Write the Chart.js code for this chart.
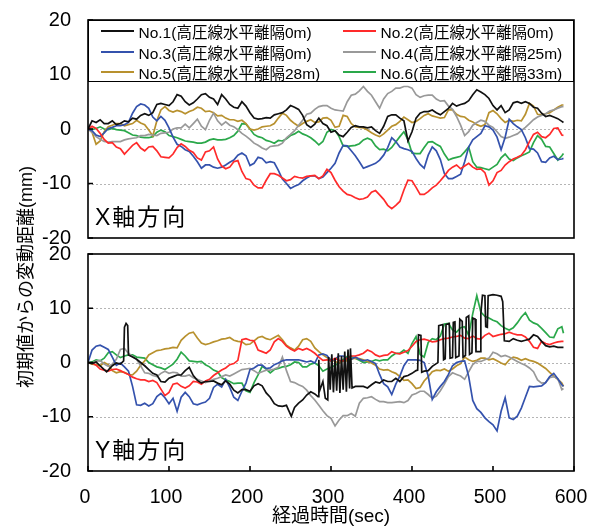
<!DOCTYPE html>
<html><head><meta charset="utf-8">
<script src="https://cdn.jsdelivr.net/npm/chart.js@4/dist/chart.umd.min.js"></script>
<style>
html,body{margin:0;padding:0;background:#fff;}
#wrap{position:relative;width:589px;height:526px;overflow:hidden;font-family:'Liberation Sans','Noto Sans CJK JP',Arial,sans-serif;color:#000;}
canvas{position:absolute;left:0;top:0;}
#legend{position:absolute;left:88px;top:20px;width:486px;height:62px;box-sizing:border-box;border:1.5px solid #000;background:#fff;}
.item{position:absolute;height:20px;display:flex;align-items:center;font-size:15.5px;white-space:nowrap;}
.sw{display:block;width:33px;height:2px;margin-right:5px;}
.plabel{position:absolute;left:95px;font-size:23px;line-height:1;letter-spacing:2px;white-space:nowrap;}
#ytitle{position:absolute;left:24px;top:277px;font-size:18px;white-space:nowrap;transform:translate(-50%,-50%) rotate(-90deg);}
</style></head>
<body>
<div id="wrap">
<canvas id="cTop" width="589" height="526"></canvas>
<canvas id="cBot" width="589" height="526"></canvas>
<div id="legend"></div>
<div class="plabel" style="top:206px">X軸方向</div>
<div class="plabel" style="top:439px">Y軸方向</div>
<div id="ytitle">初期値からの変動距離(mm)</div>
</div>
<script>
// ---- data ----
const seriesNames = ['No.1(高圧線水平離隔0m)','No.2(高圧線水平離隔0m)','No.3(高圧線水平離隔0m)','No.4(高圧線水平離隔25m)','No.5(高圧線水平離隔28m)','No.6(高圧線水平離隔33m)'];
const seriesColors = ['#111111','#ff2a2a','#3452ad','#999999','#b8912e','#2aa84a'];
const xTicks = [0,100,200,300,400,500,600];
const yTicks = [-20,-10,0,10,20];

const timeSec = [0,5,10,15,20,25,30,35,40,45,50,55,60,65,70,75,80,85,90,95,
100,105,110,115,120,125,130,135,140,145,150,155,160,165,170,175,180,185,190,195,
200,205,210,215,220,225,230,235,240,245,250,255,260,265,270,275,280,285,290,295,
300,305,310,315,320,325,330,335,340,345,350,355,360,365,370,375,380,385,390,395,
400,405,410,415,420,425,430,435,440,445,450,455,460,465,470,475,480,485,490,495,
500,505,510,515,520,525,530,535,540,545,550,555,560,565,570,575,580,585,587];

// X direction
const no1X = [0,1.5,1.2,1.7,1.0,1.0,1.5,0.8,1.0,1.5, 1.3,2.0,1.8,2.5,2.8,2.5,3.0,4.5,4.7,4.5,
4.3,5.0,6.3,6.0,5.0,4.4,4.8,5.5,6.3,6.5, 5.8,5.5,4.5,6.3,5.5,4.5,4.0,3.8,5.0,4.2,
3.0,2.0,1.8,1.9,2.1,2.0,2.6,2.8,3.0,3.5, 4.3,4.0,3.6,2.5,0.8,0.3,0.9,2.0,1.0,0.6,
-0.6,-0.3,-1.1,-1.4,-0.6,0.3,0.6,0.4,0.4,0.2, 0.4,-0.3,-0.8,0.5,2.3,2.6,2.6,2.0,1.5,-2.2,
-0.5,2.0,2.9,3.2,3.2,3.5,3.0,2.6,3.2,3.8, 4.7,4.2,4.5,4.7,5.2,6.3,7.2,6.8,6.3,5.6,
4.3,3.5,4.3,3.0,3.5,4.8,5.0,4.7,5.0,4.7, 4.0,3.8,2.9,2.3,2.5,2.2,1.9,1.4,1.2];
const no2X = [0,0.5,0.1,-0.8,-1.9,-2.6,-2.5,-3.3,-3.6,-4.6, -3.8,-3.0,-2.5,-3.5,-4.0,-3.3,-3.2,-4.0,-5.1,-5.2,
-5.3,-4.6,-3.4,-2.7,-3.2,-3.9,-4.3,-5.3,-5.7,-4.2, -4.0,-3.3,-5.5,-6.8,-7.3,-7.0,-6.0,-5.8,-7.8,-9.1,
-9.3,-10.3,-10.8,-10.8,-9.4,-8.2,-8.2,-8.5,-9.0,-9.5, -9.3,-8.7,-8.9,-9.0,-8.7,-8.6,-8.5,-9.1,-8.6,-7.4,
-8.0,-9.4,-10.6,-11.4,-12.0,-12.2,-12.6,-12.9,-12.8,-12.5, -11.6,-11.3,-12.1,-12.9,-14.0,-14.6,-14.0,-13.3,-11.2,-9.4,
-9.5,-10.7,-12.0,-12.0,-11.5,-10.8,-10.3,-9.5,-8.6,-7.6, -7.0,-6.6,-7.3,-6.8,-6.3,-7.0,-7.4,-7.3,-8.0,-10.3,
-9.5,-8.0,-7.6,-6.6,-6.0,-5.5,-5.2,-4.8,-3.8,-2.3, -1.0,-0.6,-1.4,-1.6,-1.0,0.1,0.2,-1.1,-1.2];
const no3X = [0,-0.3,-1.1,-1.4,-0.7,0.1,0.3,0.6,0.6,0.8, 1.2,2.9,4.1,4.6,4.4,3.8,2.2,1.5,2.3,1.6,
0.2,-1.5,-2.8,-3.2,-3.8,-4.1,-5.0,-6.0,-7.2,-6.6, -6.6,-7.0,-7.2,-7.0,-6.6,-6.1,-5.7,-4.8,-4.4,-4.9,
-6.7,-6.3,-5.2,-5.4,-6.2,-6.0,-6.2,-7.6,-9.2,-10.0, -10.9,-10.5,-10.2,-9.5,-9.0,-8.6,-8.6,-9.1,-8.8,-8.0,
-7.2,-6.3,-4.4,-3.0,-3.1,-4.0,-4.9,-6.0,-7.2,-6.9, -6.6,-6.3,-5.7,-4.8,-3.4,-1.6,-2.3,-3.3,-3.6,-3.8,
-4.1,-5.4,-6.5,-7.2,-4.8,-3.3,-4.0,-5.6,-8.2,-9.1, -9.1,-8.7,-8.3,-6.0,-3.3,-2.0,-1.4,-0.8,0.6,0.4,
-0.2,-1.5,-3.8,-1.5,1.8,1.0,0.4,-0.1,-1.6,-3.6, -3.7,-4.4,-6.0,-6.1,-5.3,-5.0,-5.6,-5.5,-5.4];
const no4X = [0,-0.6,-1.4,-1.9,-2.3,-2.4,-2.3,-2.3,-2.3,-2.0, -1.8,-1.7,-1.6,-1.2,-1.2,-1.0,-1.1,-1.2,-0.8,-0.7,
-0.6,0.0,0.2,0.2,0.9,0.2,1.0,1.8,0.5,-0.1, 1.6,2.9,1.5,0.7,1.3,0.7,0.4,-0.1,-0.8,-1.3,
-1.9,-2.6,-3.0,-3.5,-3.8,-3.2,-3.1,-3.0,-2.6,-1.6, -1.0,-0.3,0.7,1.6,2.7,2.9,3.6,4.1,4.3,4.3,
3.8,3.5,3.4,3.3,5.0,6.2,6.4,7.0,7.8,6.9, 6.2,5.0,3.8,5.5,6.5,6.9,7.5,7.5,7.8,7.8,
7.5,6.3,5.8,6.1,6.2,6.2,5.5,5.1,5.2,4.2, 3.6,2.3,0.7,-1.2,-0.5,0.7,1.2,1.6,1.4,0.7,
0.3,-0.5,-1.4,-1.7,-1.5,-1.2,-0.9,-0.3,0.3,1.0, 1.7,2.2,2.5,2.8,3.3,3.5,3.8,4.1,4.1];
const no5X = [0,-0.6,-2.8,-2.2,-0.5,0.4,0.7,1.0,1.0,0.6, 0.8,1.0,1.6,1.1,0.8,-0.2,-1.3,1.5,3.5,4.1,
3.4,3.1,3.4,3.2,2.8,3.2,3.5,4.0,3.8,3.2, 3.3,3.0,2.4,2.5,2.0,1.7,1.7,1.4,1.6,1.0,
0.0,-0.2,0.0,0.4,0.5,0.6,1.0,2.0,2.9,2.5, 1.6,1.0,0.5,1.0,1.4,1.7,1.2,1.3,2.0,2.1,
1.6,0.3,0.5,2.5,2.3,1.0,0.4,0.3,0.2,-0.2, -0.7,-1.1,-1.4,-0.9,-0.2,0.5,0.8,1.4,2.2,1.7,
1.2,1.4,1.9,2.5,2.8,2.4,2.2,2.0,2.1,3.5, 3.5,2.7,2.3,2.2,1.6,1.3,0.8,0.5,0.8,3.0,
3.4,2.8,1.9,1.2,1.6,1.4,1.6,1.5,2.7,4.7, 4.2,2.7,2.6,2.8,3.0,3.5,4.0,4.4,4.4];
const no6X = [0,-0.1,0.1,0.4,0.0,-0.1,0.1,-0.1,-0.2,-0.3, -0.7,-1.1,-1.2,-1.5,-1.6,-1.6,-1.4,-0.6,-0.2,-0.5,
-1.2,-1.4,-1.6,-1.9,-2.2,-2.3,-2.4,-2.6,-2.6,-2.4, -2.0,-1.8,-2.0,-2.0,-1.9,-1.6,-1.2,-0.4,1.0,0.9,
0.0,-1.0,-1.4,-1.6,-2.1,-2.3,-2.6,-2.1,-2.2,-1.8, -1.2,-0.9,-0.4,-0.9,-1.2,-1.6,-2.2,-2.9,-2.3,-0.6,
-0.1,-0.3,-1.4,-3.1,-3.2,-3.1,-3.0,-2.7,-2.0,-1.7, -2.0,-3.1,-3.8,-3.7,-4.0,-3.4,-2.4,-1.4,-0.5,-2.0,
-4.4,-4.5,-4.5,-3.4,-2.4,-2.3,-2.8,-3.2,-4.6,-5.7, -5.4,-5.2,-5.0,-4.2,-3.3,-6.0,-7.0,-7.1,-7.3,-7.5,
-7.0,-6.5,-5.3,-4.6,-5.5,-5.8,-5.3,-4.9,-4.6,-4.2, -2.5,-1.2,-1.9,-3.2,-3.3,-4.5,-5.7,-4.9,-4.5];

// Y direction
const timeNo1Y = [0,5,10,15,20,23,25,30,35,40,44,45,47,49,50,55,60,65,70,75,80,85,90,95,
100,105,110,115,120,125,130,135,140,145,150,155,160,165,170,175,180,185,190,195,
200,205,210,215,220,225,230,235,240,245,248,251,255,260,265,270,275,280,284,285,286,290,293,296,
297,299,301,303,305,307,309,311,313,315,317,319,321,323,324,326,
330,335,340,345,350,355,360,365,370,375,380,385,390,395,
400,405,407,408,411,412,415,420,425,430,432,433,438,439,441,442,446,447,450,451,453,454,458,459,462,463,466,467,470,471,474,475,478,479,484,485,487,490,491,493,494,
500,505,510,512,514,520,525,530,535,540,545,550,555,560,565,570,575,580,585,587];
const no1Y = [0,-0.2,0.1,-0.6,-1.3,-1.7,-1.4,-0.6,-0.1,-0.3,0.3,6.5,7.2,6.8,1.4,1.0,0.6,0.0,-0.6,-1.3,-2.0,-2.3,-3.5,-3.6,
-2.9,-2.6,-2.3,-2.3,-1.5,-0.9,-2.4,-3.3,-3.8,-3.5,-3.5,-3.4,-3.8,-4.1,-3.4,-4.0,-5.1,-5.6,-5.0,-5.0,
-5.3,-4.3,-3.9,-4.3,-5.6,-6.4,-7.6,-8.0,-8.1,-7.9,-8.9,-9.9,-8.3,-7.5,-6.9,-6.0,-5.4,-5.8,-6.3,0.5,-5.2,-3.5,-6.6,-6.9,
1.0,-5.0,1.5,-5.5,0.8,-5.2,1.7,-5.6,1.2,-5.0,2.0,-5.4,2.4,-4.8,2.6,-4.7,
-4.4,-4.4,-4.4,-4.7,-4.1,-3.6,-3.8,-3.2,-3.5,-3.5,-2.9,-3.5,-2.6,-2.4,
-2.0,-1.5,-1.4,5.1,5.0,-1.8,-1.6,-1.5,-0.7,-0.2,0.0,6.8,7.0,0.5,0.7,7.0,7.2,0.8,0.9,7.4,7.5,0.9,1.2,8.0,7.6,1.0,1.3,8.3,8.6,1.5,1.8,8.2,8.0,2.0,2.0,9.0,12.4,12.3,6.6,6.5,12.3,
12.5,12.4,12.2,11.2,4.0,3.9,4.4,4.1,3.9,4.1,4.3,5.1,4.8,3.9,3.1,2.9,3.0,2.8,2.8,2.8];
const no2Y = [0,-0.1,-0.5,-1.2,-1.4,-1.6,-1.3,-1.2,-1.5,-1.9, -2.2,-2.7,-3.0,-3.2,-3.2,-3.5,-3.3,-3.7,-4.9,-6.1,
-5.5,-4.0,-3.8,-4.4,-4.7,-4.3,-3.5,-3.6,-4.0,-3.4, -3.1,-2.4,-1.9,-1.4,-1.0,-0.4,-0.2,0.4,4.2,4.4,
4.1,4.0,2.3,2.0,1.7,2.3,3.8,4.4,3.9,3.0, 2.5,2.1,2.6,2.3,2.6,2.2,1.7,1.0,0.4,0.5,
0.3,0.8,0.4,0.3,0.8,1.2,1.2,1.4,1.7,2.3, 2.0,1.4,1.1,1.3,1.4,2.0,1.7,1.6,1.9,2.2,
3.0,3.9,4.2,4.3,4.1,3.8,3.9,4.2,4.4,4.5, 4.7,4.8,5.0,4.5,4.4,4.9,4.4,4.3,5.0,5.4,
4.8,5.0,5.2,5.3,5.6,5.3,5.1,5.1,4.7,3.9, 2.8,2.6,3.9,3.5,3.3,3.6,3.8,3.9,3.9];
const no3Y = [0,2.3,3.0,3.2,2.8,2.4,1.0,-0.5,-0.1,-0.8, -1.6,-4.4,-7.8,-7.9,-7.5,-8.0,-7.6,-6.3,-5.7,-6.5,
-7.6,-6.6,-9.0,-6.4,-5.5,-6.3,-7.6,-7.8,-7.5,-7.3, -6.6,-4.6,-4.0,-4.5,-3.1,-4.6,-6.4,-7.0,-5.3,-3.8,
-1.3,-1.0,-0.5,-0.5,-1.1,-1.0,-0.4,-0.1,0.3,0.5, 0.5,0.5,0.5,0.3,0.1,0.3,-0.1,1.4,1.6,1.3,
0.3,0.6,1.2,1.2,0.6,0.6,1.0,0.6,0.3,0.5, 0.2,-0.2,-2.2,-3.9,-4.5,-5.9,-4.0,-2.5,-0.6,0.5,
0.5,0.5,0.4,0.0,-2.5,-6.8,-5.4,-4.4,-3.5,-2.2, -0.6,0.0,0.2,0.3,-2.6,-7.0,-8.5,-9.2,-10.2,-10.9,
-11.5,-12.6,-9.0,-6.5,-10.2,-10.5,-9.9,-8.4,-6.4,-4.4, -4.5,-4.4,-4.3,-3.7,-2.6,-2.0,-3.0,-4.1,-4.4];
const no4Y = [0,-0.1,0.2,0.4,-0.3,-0.7,-0.3,0.6,2.4,2.6, 1.7,1.1,0.6,-0.6,-1.9,-2.0,-2.4,-2.6,-2.0,-1.6,
-2.0,-1.8,-1.9,-2.5,-2.5,-2.3,-2.8,-3.1,-3.4,-3.7, -3.4,-3.1,-2.9,-2.6,-2.3,-2.5,-2.1,-1.7,-1.3,-1.2,
-1.1,-1.5,-2.0,-1.7,-1.4,-1.4,-1.2,-0.9,1.0,-1.5, -3.5,-3.7,-4.1,-4.4,-5.1,-6.1,-6.9,-7.9,-8.9,-9.8,
-10.3,-11.7,-10.6,-9.8,-9.8,-9.4,-9.9,-7.5,-6.6,-6.5, -6.3,-6.8,-7.2,-7.2,-7.4,-7.4,-7.3,-7.2,-7.4,-7.0,
-6.0,-5.7,-5.3,-5.3,-5.9,-6.6,-6.2,-5.2,-4.0,-2.6, -1.9,-2.2,-2.5,-3.1,-1.7,-0.4,0.2,0.2,0.5,0.8,
1.9,1.6,1.1,1.3,1.0,0.6,0.2,-0.2,-0.5,-1.0, -1.7,-3.2,-3.8,-3.7,-2.8,-2.6,-3.0,-5.0,-4.8];
const no5Y = [0,-0.3,-0.4,-0.6,0.0,-0.4,-1.5,-1.9,-1.7,-1.8, -2.2,-2.3,-1.6,-0.5,0.3,1.4,1.8,2.2,2.3,2.5,
2.6,2.8,2.7,4.1,4.8,5.4,5.6,4.5,3.6,3.3, 3.5,3.8,4.0,4.3,4.4,4.6,4.1,3.9,3.8,3.3,
3.4,4.0,4.6,4.8,4.4,4.2,4.6,5.0,4.2,3.2, 2.7,2.3,3.0,4.2,4.4,3.9,2.7,2.0,1.4,0.9,
0.5,0.2,-0.1,0.3,0.3,0.6,0.8,0.7,0.5,0.2, -0.1,-0.5,-1.2,-1.4,-1.3,-1.7,-2.0,-2.6,-3.3,-3.2,
-3.9,-4.8,-4.6,-3.4,-2.6,-1.7,-1.4,-1.5,-1.2,-1.6, -1.2,-0.6,-0.2,1.0,0.5,0.2,0.4,0.8,0.8,0.5,
0.7,0.3,-0.1,-0.4,0.5,1.0,0.8,0.4,0.7,0.4, 0.2,-0.1,-0.6,-1.1,-1.8,-2.5,-3.1,-3.8,-4.4];
const no6Y = [0,0.1,0.5,0.3,0.8,1.8,2.0,1.4,0.9,1.2, 1.4,1.4,1.0,0.9,0.8,0.0,-0.4,-0.8,-1.0,-1.3,
-0.8,-0.3,0.6,1.9,1.2,0.3,0.2,0.1,0.2,-0.4, -0.8,-1.4,-1.7,-2.8,-3.2,-3.5,-3.9,-3.8,-3.8,-5.2,
-5.5,-3.7,-2.3,-0.7,-1.2,-1.9,-1.3,-1.1,-0.8,-0.7, -0.4,0.1,0.0,-0.8,-0.8,-0.3,-0.1,-0.6,-1.6,-1.2,
-0.9,-0.5,-0.1,0.5,1.1,1.1,0.8,0.4,0.0,0.1, 0.2,0.5,0.3,0.5,0.5,1.2,1.7,1.7,2.3,1.7,
3.5,4.8,1.5,1.0,3.7,4.4,4.2,4.9,7.1,7.2, 6.0,5.6,6.4,6.6,5.0,9.0,12.3,9.3,8.5,8.2,
7.8,7.5,6.8,6.3,6.0,6.4,7.3,8.4,9.2,7.8, 7.3,7.0,6.3,5.5,4.7,4.6,6.2,6.6,5.4];

// ---- build ----
const FONT = "'Liberation Sans','Noto Sans CJK JP',Arial,sans-serif";
Chart.defaults.font.family = FONT;
Chart.defaults.color = '#000';

function pts(ts, vs){ return vs.map((v,i)=>({x:ts[i], y:v})); }
function sets(list){
  return list.map((d,i)=>({label:seriesNames[i], data:pts(d[0],d[1]), borderColor:seriesColors[i],
    borderWidth:1.7, pointRadius:0, fill:false, tension:0}));
}
const xSets = sets([[timeSec,no1X],[timeSec,no2X],[timeSec,no3X],[timeSec,no4X],[timeSec,no5X],[timeSec,no6X]]);
const ySets = sets([[timeNo1Y,no1Y],[timeSec,no2Y],[timeSec,no3Y],[timeSec,no4Y],[timeSec,no5Y],[timeSec,no6Y]]);

const framePlugin = {
  id:'frame',
  beforeDatasetsDraw(chart){
    const {ctx, chartArea:a, scales} = chart;
    ctx.save();
    ctx.strokeStyle = '#b5b5b5'; ctx.lineWidth = 1; ctx.setLineDash([2,2]);
    scales.y.ticks.forEach(t=>{
      if (Math.abs(t.value) >= 20) return;
      const py = Math.round(scales.y.getPixelForValue(t.value)) + 0.5;
      ctx.beginPath(); ctx.moveTo(a.left, py); ctx.lineTo(a.right, py); ctx.stroke();
    });
    ctx.restore();
  },
  afterDraw(chart, args, opts){
    const {ctx, chartArea:a, scales} = chart;
    ctx.save();
    ctx.strokeStyle = '#000'; ctx.lineWidth = 1.6; ctx.setLineDash([]);
    ctx.strokeRect(a.left, a.top, a.right - a.left, a.bottom - a.top);
    ctx.beginPath();
    scales.y.ticks.forEach(t=>{
      const py = scales.y.getPixelForValue(t.value);
      ctx.moveTo(a.left, py); ctx.lineTo(a.left + 5, py);
    });
    if (opts.xTicks) {
      scales.x.ticks.forEach(t=>{
        const px = scales.x.getPixelForValue(t.value);
        ctx.moveTo(px, a.bottom); ctx.lineTo(px, a.bottom - 5);
      });
    }
    ctx.stroke();
    ctx.restore();
  }
};

function yScale(){
  return {min:yTicks[0], max:yTicks[yTicks.length-1],
    afterBuildTicks(s){ s.ticks = yTicks.map(v=>({value:v})); },
    ticks:{padding:17, font:{size:20}, color:'#000'},
    grid:{display:false, drawTicks:false}, border:{display:false},
    afterFit(s){ s.width = 88; s.paddingTop = 0; s.paddingBottom = 0; }};
}

new Chart(document.getElementById('cTop'), {
  type:'line',
  data:{datasets:xSets},
  options:{responsive:false, animation:false, devicePixelRatio:1,
    layout:{padding:{top:20, right:15, bottom:288, left:0}},
    plugins:{legend:{display:false}, tooltip:{enabled:false}, frame:{xTicks:false}},
    scales:{
      x:{type:'linear', min:0, max:600, display:false},
      y:yScale()
    }},
  plugins:[framePlugin]
});

new Chart(document.getElementById('cBot'), {
  type:'line',
  data:{datasets:ySets},
  options:{responsive:false, animation:false, devicePixelRatio:1,
    layout:{padding:{top:254, right:15, bottom:0, left:0}},
    plugins:{legend:{display:false}, tooltip:{enabled:false}, frame:{xTicks:true}},
    scales:{
      x:{type:'linear', min:0, max:600,
        afterBuildTicks(s){ s.ticks = xTicks.map(v=>({value:v})); },
        ticks:{padding:15, font:{size:19.5}, color:'#000', maxRotation:0, labelOffset:-3},
        grid:{display:false, drawTicks:false}, border:{display:false},
        title:{display:true, text:'経過時間(sec)', font:{size:19, lineHeight:1}, padding:{top:0,bottom:0}, color:'#000'},
        afterFit(s){ s.height = 55; s.paddingLeft = 0; s.paddingRight = 0; }},
      y:yScale()
    }},
  plugins:[framePlugin]
});

// HTML legend built from the datasets
const leg = document.getElementById('legend');
const rowTops = [0.2, 20.8, 40.8];
xSets.forEach((ds,i)=>{
  const col = i % 2, row = Math.floor(i/2);
  const it = document.createElement('div');
  it.className = 'item';
  it.style.left = (col ? 253.5 : 11.5) + 'px';
  it.style.top = rowTops[row] + 'px';
  const sw = document.createElement('span');
  sw.className = 'sw'; sw.style.backgroundColor = ds.borderColor;
  const tx = document.createElement('span'); tx.textContent = ds.label;
  it.appendChild(sw); it.appendChild(tx);
  leg.appendChild(it);
});
</script>
</body></html>
